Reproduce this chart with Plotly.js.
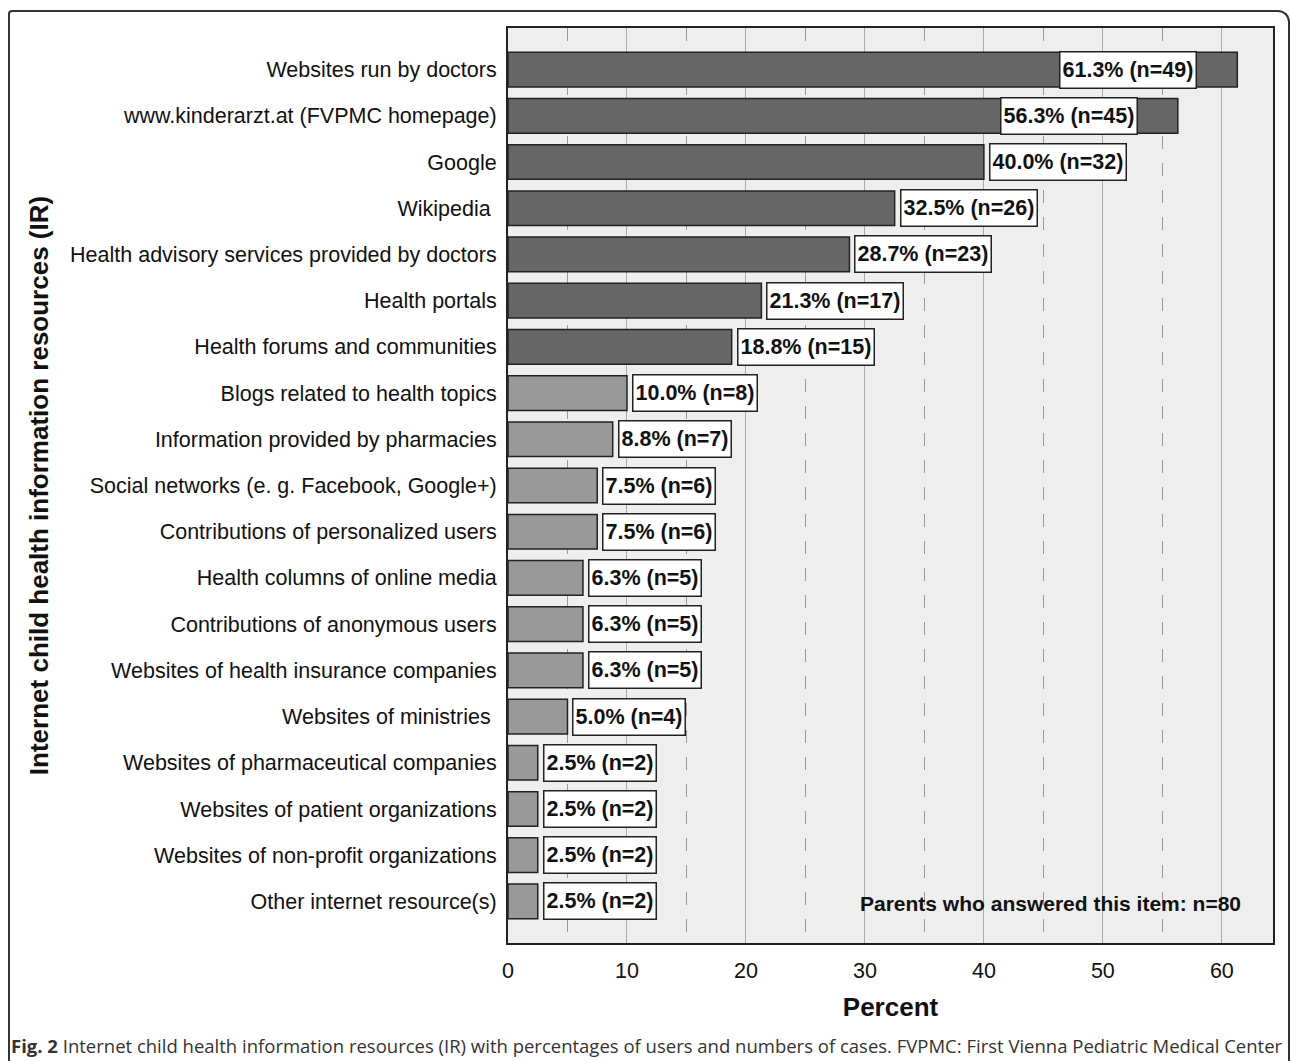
<!DOCTYPE html>
<html>
<head>
<meta charset="utf-8">
<script src="https://cdn.plot.ly/plotly-3.0.1.min.js"></script>
<style>
  html, body { margin: 0; padding: 0; background: #fff; overflow: hidden; }
  #wrap { position: relative; width: 1290px; height: 1061px; }
  #chart { position: absolute; left: 0; top: 0; width: 1290px; height: 1061px; }
  #frame { position: absolute; left: 8px; top: 10px; width: 1278px; height: 1080px;
           border: 2px solid #333; border-bottom: none; border-radius: 4px 12px 0 0; pointer-events: none; }
</style>
</head>
<body>
<div id="wrap">
  <div id="chart"></div>
  <div id="frame"></div>
</div>
<script>
const categories = [
  "Websites run by doctors",
  "www.kinderarzt.at (FVPMC homepage)",
  "Google",
  "Wikipedia ",
  "Health advisory services provided by doctors",
  "Health portals",
  "Health forums and communities",
  "Blogs related to health topics",
  "Information provided by pharmacies",
  "Social networks (e. g. Facebook, Google+)",
  "Contributions of personalized users",
  "Health columns of online media",
  "Contributions of anonymous users",
  "Websites of health insurance companies",
  "Websites of ministries ",
  "Websites of pharmaceutical companies",
  "Websites of patient organizations",
  "Websites of non-profit organizations",
  "Other internet resource(s)"
];
const percents = [61.3, 56.3, 40.0, 32.5, 28.7, 21.3, 18.8, 10.0, 8.8, 7.5, 7.5, 6.3, 6.3, 6.3, 5.0, 2.5, 2.5, 2.5, 2.5];
const counts = [49, 45, 32, 26, 23, 17, 15, 8, 7, 6, 6, 5, 5, 5, 4, 2, 2, 2, 2];
const groups = ["high","high","high","high","high","high","high","low","low","low","low","low","low","low","low","low","low","low","low"];
const xTicks = [0, 10, 20, 30, 40, 50, 60];
const note = "Parents who answered this item: n=80";
const caption = "<b>Fig. 2</b> Internet child health information resources (IR) with percentages of users and numbers of cases. FVPMC: First Vienna Pediatric Medical Center";

const groupColor = { high: "#666666", low: "#999999" };

const trace = {
  type: "bar",
  orientation: "h",
  x: percents,
  y: categories,
  marker: { color: groups.map(g => groupColor[g]), line: { color: "#222", width: 1.5 } },
  hoverinfo: "x+y",
  showlegend: false
};

const annotations = percents.map((p, i) => {
  const inside = p > 50;
  return {
    x: p, y: categories[i], xref: "x", yref: "y",
    text: p.toFixed(1) + "% (n=" + counts[i] + ")",
    showarrow: false,
    xanchor: inside ? "right" : "left",
    xshift: inside ? -40 : 5,
    bgcolor: "#ffffff", bordercolor: "#222", borderwidth: 1.5, borderpad: 2,
    height: 31,
    font: { family: "Liberation Sans, Arial, sans-serif", size: 21.5, color: "#111", weight: "bold" }
  };
});
annotations.push({
  x: 61.75, y: categories[categories.length - 1], xref: "x", yref: "y",
  text: "<b>" + note + "</b>", showarrow: false, xanchor: "right", yshift: -2,
  font: { family: "Liberation Sans, Arial, sans-serif", size: 21, color: "#111" }
});
annotations.push({
  x: -0.652, y: -0.1115, xref: "paper", yref: "paper",
  text: caption, showarrow: false, xanchor: "left", yanchor: "middle",
  font: { family: "Open Sans, sans-serif", size: 18.5, color: "#333" }
});

const layout = {
  width: 1290, height: 1061,
  margin: { l: 508, r: 17, t: 28, b: 118 },
  paper_bgcolor: "rgba(0,0,0,0)",
  plot_bgcolor: "#eeeeee",
  bargap: 0.25,
  font: { family: "Liberation Sans, Arial, sans-serif", color: "#111" },
  xaxis: {
    range: [0, 64.3],
    tickvals: xTicks,
    ticks: "outside", ticklen: 7, tickcolor: "rgba(0,0,0,0)",
    tickfont: { size: 21.5, color: "#111" },
    showgrid: true, gridcolor: "#aaaaaa", gridwidth: 1,
    minor: { dtick: 5, tick0: 0, showgrid: true, gridcolor: "#999999", gridwidth: 1, griddash: "13px,14px", ticks: "" },
    zeroline: false,
    showline: true, linecolor: "#222", linewidth: 2, mirror: true,
    title: { text: "<b>Percent</b>", font: { size: 26, color: "#111" }, standoff: 16 },
    automargin: false
  },
  yaxis: {
    type: "category",
    categoryorder: "array", categoryarray: categories,
    range: [18.9, -0.9],
    ticks: "outside", ticklen: 5, tickcolor: "rgba(0,0,0,0)",
    tickfont: { size: 21.5, color: "#111" },
    showgrid: false, zeroline: false,
    showline: true, linecolor: "#222", linewidth: 2, mirror: true,
    title: { text: "<b>Internet child health information resources (IR)</b>", font: { size: 26, color: "#111" }, standoff: 14 },
    automargin: false
  },
  annotations: annotations
};

Plotly.newPlot("chart", [trace], layout, { displayModeBar: false, staticPlot: true });
</script>
</body>
</html>
